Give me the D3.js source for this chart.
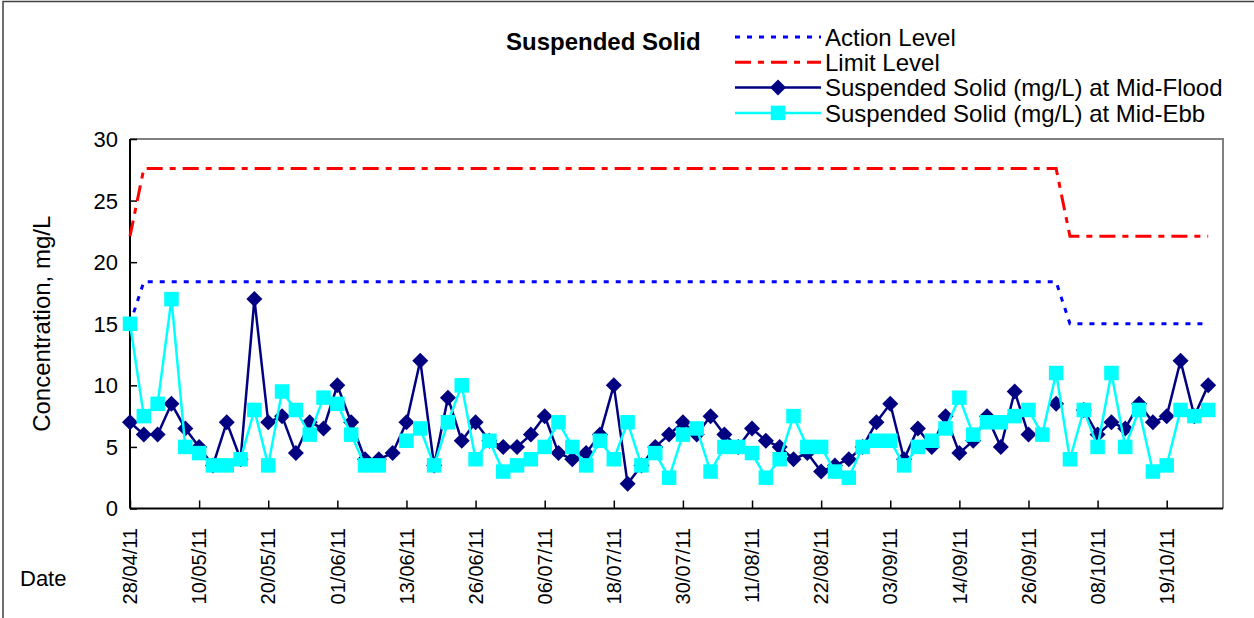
<!DOCTYPE html>
<html>
<head>
<meta charset="utf-8">
<script src="https://cdn.jsdelivr.net/npm/d3@7"></script>
<style>
  body { margin: 0; background: #fff; }
  svg { display: block; font-family: Arial, "Liberation Sans", sans-serif; }
</style>
</head>
<body>
<svg id="chart" width="1254" height="618"></svg>
<script>
// date labels, one every 5 sampling days
var dateLabels = ['28/04/11', '10/05/11', '20/05/11', '01/06/11', '13/06/11', '26/06/11', '06/07/11', '18/07/11',
    '30/07/11', '11/08/11', '22/08/11', '03/09/11', '14/09/11', '26/09/11', '08/10/11', '19/10/11'];
var nCategories = 80;
var labelStep = 5;
var yTicks = [0, 5, 10, 15, 20, 25, 30];

var actionLevel = [
    15, 18.4, 18.4, 18.4, 18.4, 18.4, 18.4, 18.4, 18.4, 18.4,
    18.4, 18.4, 18.4, 18.4, 18.4, 18.4, 18.4, 18.4, 18.4, 18.4,
    18.4, 18.4, 18.4, 18.4, 18.4, 18.4, 18.4, 18.4, 18.4, 18.4,
    18.4, 18.4, 18.4, 18.4, 18.4, 18.4, 18.4, 18.4, 18.4, 18.4,
    18.4, 18.4, 18.4, 18.4, 18.4, 18.4, 18.4, 18.4, 18.4, 18.4,
    18.4, 18.4, 18.4, 18.4, 18.4, 18.4, 18.4, 18.4, 18.4, 18.4,
    18.4, 18.4, 18.4, 18.4, 18.4, 18.4, 18.4, 18.4, 15, 15,
    15, 15, 15, 15, 15, 15, 15, 15, 15];

var limitLevel = [
    22.1, 27.6, 27.6, 27.6, 27.6, 27.6, 27.6, 27.6, 27.6, 27.6,
    27.6, 27.6, 27.6, 27.6, 27.6, 27.6, 27.6, 27.6, 27.6, 27.6,
    27.6, 27.6, 27.6, 27.6, 27.6, 27.6, 27.6, 27.6, 27.6, 27.6,
    27.6, 27.6, 27.6, 27.6, 27.6, 27.6, 27.6, 27.6, 27.6, 27.6,
    27.6, 27.6, 27.6, 27.6, 27.6, 27.6, 27.6, 27.6, 27.6, 27.6,
    27.6, 27.6, 27.6, 27.6, 27.6, 27.6, 27.6, 27.6, 27.6, 27.6,
    27.6, 27.6, 27.6, 27.6, 27.6, 27.6, 27.6, 27.6, 22.1, 22.1,
    22.1, 22.1, 22.1, 22.1, 22.1, 22.1, 22.1, 22.1, 22.1];

// mg/L, null = no sample
var midFlood = [
    7, 6, 6, 8.5, 6.5, 5, 3.5, 7, 4, 17,
    7, 7.5, 4.5, 7, 6.5, 10, 7, 4, 4, 4.5,
    7, 12, 3.5, 9, 5.5, 7, 5.5, 5, 5, 6,
    7.5, 4.5, 4, 4.5, 6, 10, 2, 3.5, 5, 6,
    7, 6, 7.5, 6, 5, 6.5, 5.5, 5, 4, 4.5,
    3, 3.5, 4, 5, 7, 8.5, 4, 6.5, 5, 7.5,
    4.5, 5.5, 7.5, 5, 9.5, 6, null, 8.5, null, 8,
    6, 7, 6.5, 8.5, 7, 7.5, 12, 7.5, 10];

var midEbb = [
    15, 7.5, 8.5, 17, 5, 4.5, 3.5, 3.5, 4, 8,
    3.5, 9.5, 8, 6, 9, 8.5, 6, 3.5, 3.5, null,
    5.5, 6.5, 3.5, 7, 10, 4, 5.5, 3, 3.5, 4,
    5, 7, 5, 3.5, 5.5, 4, 7, 3.5, 4.5, 2.5,
    6, 6.5, 3, 5, 5, 4.5, 2.5, 4, 7.5, 5,
    5, 3, 2.5, 5, 5.5, 5.5, 3.5, 5, 5.5, 6.5,
    9, 6, 7, 7, 7.5, 8, 6, 11, 4, 8,
    5, 11, 5, 8, 3, 3.5, 8, 7.5, 8];

var svg = d3.select('#chart');
var plot = {left: 130, right: 1222, top: 139, bottom: 508.5};

var x = d3.scalePoint()
    .domain(d3.range(nCategories))
    .range([plot.left, plot.right]);

var y = d3.scaleLinear()
    .domain([0, 30])
    .range([plot.bottom, plot.top]);

// outer chart frame
svg.append('path')
    .attr('d', 'M3,620 L3,1.5 L1260,1.5')
    .attr('fill', 'none')
    .attr('stroke', '#404040')
    .attr('stroke-width', 1.5);

// plot area border (top / right)
svg.append('path')
    .attr('d', 'M' + plot.left + ',' + plot.top + ' L' + (plot.right + 1) + ',' + plot.top + ' L' + (plot.right + 1) + ',' + plot.bottom)
    .attr('fill', 'none')
    .attr('stroke', '#808080')
    .attr('stroke-width', 2);

// y axis
var yAxis = svg.append('g')
    .attr('transform', 'translate(' + plot.left + ',0)')
    .call(d3.axisRight(y).tickValues(yTicks).tickSize(7).tickFormat(''));
yAxis.select('.domain').attr('stroke', '#000').attr('stroke-width', 2).attr('d', 'M0,' + plot.top + 'V' + plot.bottom);
yAxis.selectAll('.tick line').attr('stroke', '#000').attr('stroke-width', 1.5);

svg.append('g').selectAll('text')
    .data(yTicks)
    .enter().append('text')
    .attr('x', 118)
    .attr('y', function(d) { return y(d); })
    .attr('dy', '0.36em')
    .attr('text-anchor', 'end')
    .attr('font-size', 22)
    .attr('fill', '#000')
    .text(function(d) { return d; });

// x axis
var tickCats = x.domain().filter(function(d) { return d % labelStep === 0; });
var xAxis = svg.append('g')
    .attr('transform', 'translate(0,' + plot.bottom + ')')
    .call(d3.axisTop(x).tickValues(tickCats).tickSize(8).tickFormat(''));
xAxis.select('.domain').attr('stroke', '#000').attr('stroke-width', 2).attr('d', 'M' + plot.left + ',0H' + (plot.right + 1));
xAxis.selectAll('.tick line').attr('stroke', '#000').attr('stroke-width', 1.5);

svg.append('g').selectAll('text')
    .data(dateLabels)
    .enter().append('text')
    .attr('transform', function(d, i) { return 'translate(' + x(i * labelStep) + ',528) rotate(-90)'; })
    .attr('dy', '0.36em')
    .attr('text-anchor', 'end')
    .attr('font-size', 20)
    .attr('fill', '#000')
    .text(function(d) { return d; });

svg.append('text')
    .attr('x', 20)
    .attr('y', 586)
    .attr('font-size', 22)
    .text('Date');

svg.append('text')
    .attr('transform', 'translate(50,' + ((plot.top + plot.bottom) / 2) + ') rotate(-90)')
    .attr('text-anchor', 'middle')
    .attr('font-size', 24)
    .text('Concentration, mg/L');

// series
var line = d3.line()
    .defined(function(d) { return d != null; })
    .x(function(d, i) { return x(i); })
    .y(function(d) { return y(d); });

svg.append('path')
    .datum(actionLevel)
    .attr('d', line)
    .attr('fill', 'none')
    .attr('stroke', '#0000FF')
    .attr('stroke-width', 3)
    .attr('stroke-dasharray', '5,7');

svg.append('path')
    .datum(limitLevel)
    .attr('d', line)
    .attr('fill', 'none')
    .attr('stroke', '#FF0000')
    .attr('stroke-width', 3)
    .attr('stroke-dasharray', '16,7,6,7');

var diamond = 'M0,-8L8,0L0,8L-8,0Z';

svg.append('path')
    .datum(midFlood)
    .attr('d', line)
    .attr('fill', 'none')
    .attr('stroke', '#000080')
    .attr('stroke-width', 2.5);

svg.append('g').selectAll('path')
    .data(midFlood.map(function(v, i) { return {i: i, v: v}; }).filter(function(d) { return d.v != null; }))
    .enter().append('path')
    .attr('d', diamond)
    .attr('transform', function(d) { return 'translate(' + x(d.i) + ',' + y(d.v) + ')'; })
    .attr('fill', '#000080');

svg.append('path')
    .datum(midEbb)
    .attr('d', line)
    .attr('fill', 'none')
    .attr('stroke', '#00FFFF')
    .attr('stroke-width', 2.5);

svg.append('g').selectAll('rect')
    .data(midEbb.map(function(v, i) { return {i: i, v: v}; }).filter(function(d) { return d.v != null; }))
    .enter().append('rect')
    .attr('x', function(d) { return x(d.i) - 7.25; })
    .attr('y', function(d) { return y(d.v) - 7.25; })
    .attr('width', 14.5)
    .attr('height', 14.5)
    .attr('fill', '#00FFFF');

// title and legend
svg.append('text')
    .attr('x', 506)
    .attr('y', 50)
    .attr('font-size', 24)
    .attr('font-weight', 'bold')
    .text('Suspended Solid');

var legendItems = [
    {name: 'Action Level', color: '#0000FF', dash: '5,7', marker: null},
    {name: 'Limit Level', color: '#FF0000', dash: '16,7,6,7', marker: null},
    {name: 'Suspended Solid (mg/L) at Mid-Flood', color: '#000080', dash: null, marker: 'diamond'},
    {name: 'Suspended Solid (mg/L) at Mid-Ebb', color: '#00FFFF', dash: null, marker: 'square'}
];

var leg = svg.append('g').selectAll('g')
    .data(legendItems)
    .enter().append('g')
    .attr('transform', function(d, i) { return 'translate(735,' + (37 + i * 25.3) + ')'; });

leg.append('line')
    .attr('x1', 0).attr('x2', 86)
    .attr('stroke', function(d) { return d.color; })
    .attr('stroke-width', function(d) { return d.marker ? 2.5 : 3; })
    .attr('stroke-dasharray', function(d) { return d.dash; });

leg.filter(function(d) { return d.marker === 'diamond'; })
    .append('path')
    .attr('d', diamond)
    .attr('transform', 'translate(43,0)')
    .attr('fill', function(d) { return d.color; });

leg.filter(function(d) { return d.marker === 'square'; })
    .append('rect')
    .attr('x', 43 - 7.25).attr('y', -7.25)
    .attr('width', 14.5).attr('height', 14.5)
    .attr('fill', function(d) { return d.color; });

leg.append('text')
    .attr('x', 90)
    .attr('dy', '0.36em')
    .attr('font-size', 24)
    .text(function(d) { return d.name; });
</script>
</body>
</html>
